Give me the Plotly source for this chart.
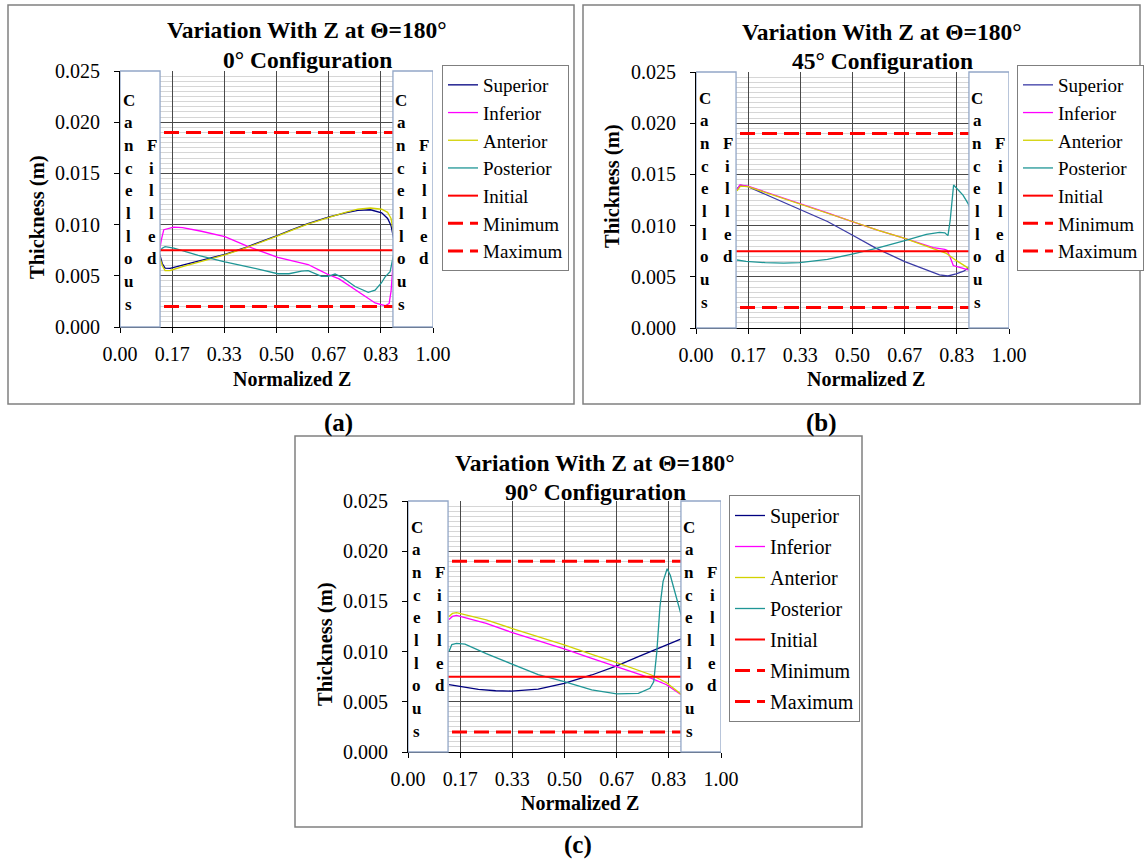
import plotly.graph_objects as go

W, H = 1144, 859
SERIF = "Liberation Serif"

# ---------------- data: normalized Z and wall thickness (m) ----------------
series_names = ["Superior", "Inferior", "Anterior", "Posterior"]

# 0° configuration
sup_a_x = [0.125, 0.135, 0.144, 0.16, 0.20, 0.26, 0.335, 0.40, 0.46, 0.504, 0.55, 0.60, 0.668, 0.72, 0.76, 0.80, 0.836, 0.855, 0.866, 0.872, 0.875]
sup_a_y = [0.0073, 0.0062, 0.00575, 0.00572, 0.00605, 0.0065, 0.0071, 0.00775, 0.0084, 0.00895, 0.0095, 0.0101, 0.01075, 0.01115, 0.01138, 0.01145, 0.01115, 0.0106, 0.0099, 0.009, 0.0085]
inf_a_x = [0.125, 0.132, 0.140, 0.15, 0.172, 0.20, 0.26, 0.335, 0.41, 0.504, 0.56, 0.601, 0.64, 0.668, 0.70, 0.751, 0.79, 0.815, 0.847, 0.860, 0.866, 0.870, 0.873, 0.875]
inf_a_y = [0.0072, 0.0085, 0.0095, 0.0096, 0.00975, 0.0097, 0.00935, 0.00882, 0.00785, 0.0068, 0.0064, 0.0061, 0.0055, 0.00508, 0.0047, 0.00365, 0.0028, 0.00235, 0.00208, 0.0023, 0.0035, 0.0055, 0.0068, 0.0072]
ant_a_x = [0.125, 0.135, 0.144, 0.16, 0.20, 0.26, 0.335, 0.40, 0.46, 0.504, 0.55, 0.60, 0.668, 0.72, 0.76, 0.80, 0.836, 0.855, 0.866, 0.872, 0.875]
ant_a_y = [0.0070, 0.0060, 0.0055, 0.00552, 0.0059, 0.0064, 0.00705, 0.0077, 0.00835, 0.0089, 0.00945, 0.01005, 0.0107, 0.0112, 0.0115, 0.01162, 0.0115, 0.0112, 0.0106, 0.0096, 0.0089]
post_a_x = [0.125, 0.135, 0.144, 0.172, 0.25, 0.335, 0.42, 0.504, 0.54, 0.58, 0.601, 0.625, 0.644, 0.665, 0.687, 0.71, 0.751, 0.793, 0.815, 0.835, 0.847, 0.863, 0.870, 0.875]
post_a_y = [0.0073, 0.0077, 0.00784, 0.0077, 0.0070, 0.00636, 0.0058, 0.0052, 0.0052, 0.00545, 0.0055, 0.0052, 0.00495, 0.00495, 0.00517, 0.00485, 0.00395, 0.00338, 0.0036, 0.0043, 0.0049, 0.0054, 0.0063, 0.0072]

# 45° configuration
sup_b_x = [0.131, 0.142, 0.166, 0.25, 0.331, 0.42, 0.499, 0.576, 0.667, 0.736, 0.778, 0.805, 0.831, 0.855, 0.869, 0.875]
sup_b_y = [0.0136, 0.01394, 0.0138, 0.0127, 0.0116, 0.0104, 0.00908, 0.00778, 0.00648, 0.00567, 0.00518, 0.00508, 0.00528, 0.00555, 0.00583, 0.0061]
inf_b_x = [0.131, 0.140, 0.166, 0.25, 0.331, 0.42, 0.499, 0.58, 0.667, 0.758, 0.795, 0.802, 0.812, 0.822, 0.84, 0.869, 0.875]
inf_b_y = [0.0135, 0.01397, 0.01385, 0.0130, 0.01218, 0.01125, 0.01039, 0.00955, 0.00876, 0.00784, 0.00768, 0.0076, 0.0069, 0.0061, 0.00595, 0.00567, 0.0057]
ant_b_x = [0.131, 0.142, 0.166, 0.25, 0.331, 0.42, 0.499, 0.58, 0.667, 0.74, 0.778, 0.80, 0.831, 0.855, 0.875]
ant_b_y = [0.0134, 0.01385, 0.0138, 0.01295, 0.01215, 0.01125, 0.0104, 0.00955, 0.00875, 0.00795, 0.0075, 0.00729, 0.0066, 0.0061, 0.00575]
post_b_x = [0.131, 0.16, 0.221, 0.28, 0.331, 0.42, 0.499, 0.576, 0.667, 0.736, 0.778, 0.795, 0.805, 0.812, 0.823, 0.853, 0.869, 0.875]
post_b_y = [0.00664, 0.0065, 0.00638, 0.00633, 0.00638, 0.0067, 0.00722, 0.00778, 0.00853, 0.00915, 0.00934, 0.0093, 0.00902, 0.0105, 0.01396, 0.01298, 0.01217, 0.0117]

# 90° configuration
sup_c_x = [0.131, 0.18, 0.225, 0.28, 0.331, 0.416, 0.499, 0.587, 0.667, 0.736, 0.80, 0.869, 0.875]
sup_c_y = [0.0067, 0.00645, 0.00624, 0.0061, 0.00607, 0.00627, 0.00684, 0.00767, 0.00857, 0.0095, 0.01032, 0.01122, 0.0113]
inf_c_x = [0.131, 0.142, 0.155, 0.25, 0.331, 0.42, 0.499, 0.58, 0.667, 0.778, 0.826, 0.869, 0.875]
inf_c_y = [0.0132, 0.0135, 0.01361, 0.0128, 0.01192, 0.01105, 0.01026, 0.0094, 0.0085, 0.00734, 0.0067, 0.00578, 0.00565]
ant_c_x = [0.131, 0.142, 0.155, 0.25, 0.331, 0.42, 0.499, 0.58, 0.667, 0.778, 0.826, 0.869, 0.875]
ant_c_y = [0.0135, 0.0138, 0.01388, 0.01315, 0.01232, 0.01145, 0.01066, 0.0098, 0.0089, 0.00767, 0.0069, 0.00585, 0.00565]
post_c_x = [0.131, 0.140, 0.155, 0.182, 0.25, 0.331, 0.416, 0.499, 0.587, 0.667, 0.736, 0.773, 0.785, 0.795, 0.805, 0.815, 0.828, 0.838, 0.853, 0.869, 0.875]
post_c_y = [0.0100, 0.0107, 0.01082, 0.01075, 0.0098, 0.00877, 0.0077, 0.0070, 0.00618, 0.00578, 0.00584, 0.00635, 0.0070, 0.0100, 0.01448, 0.0170, 0.01825, 0.0176, 0.0158, 0.0140, 0.0134]

# design limits
initial_thickness = 0.0075
minimum_thickness = 0.002
maximum_thickness = 0.019
limit_span = [0.0, 1.0]

# axis ticks
y_range = [0.0, 0.025]
x_tickvals = [0, 1 / 6, 2 / 6, 3 / 6, 4 / 6, 5 / 6, 1]
x_ticktext = ["0.00", "0.17", "0.33", "0.50", "0.67", "0.83", "1.00"]

# ---------------- styling ----------------
superior_colors = {"a": "#000080", "b": "#3b3ba6", "c": "#000080"}
inferior_color = "#ff00ff"
anterior_color = "#d2d200"
posterior_color = "#1f9696"
limit_color = "#ff0000"

panels = [
    dict(key="a", cfg="0°", xs=(sup_a_x, inf_a_x, ant_a_x, post_a_x), ys=(sup_a_y, inf_a_y, ant_a_y, post_a_y),
         plot=(120, 433, 71, 327), frame=(8, 574, 5, 404), title_cx=307, title_y=(30, 60),
         caption=(338, 423), xtitle=(292, 379), ytitle=(38, 217), legend=(442, 65), letters_top=29),
    dict(key="b", cfg="45°", xs=(sup_b_x, inf_b_x, ant_b_x, post_b_x), ys=(sup_b_y, inf_b_y, ant_b_y, post_b_y),
         plot=(696, 1009, 72, 328), frame=(583, 1140, 5, 404), title_cx=882, title_y=(32, 61),
         caption=(821, 423), xtitle=(866, 379), ytitle=(612, 186), legend=(1017, 65), letters_top=26),
    dict(key="c", cfg="90°", xs=(sup_c_x, inf_c_x, ant_c_x, post_c_x), ys=(sup_c_y, inf_c_y, ant_c_y, post_c_y),
         plot=(408, 721, 501, 752), frame=(295, 862, 436, 827), title_cx=595, title_y=(463, 492),
         caption=(578, 845), xtitle=(580, 803), ytitle=(325, 644), legend=(729, 495), letters_top=26),
]


def fx(p):
    return p / W


def fy(p):
    return 1 - p / H


def label(x, y, text, size, xref="paper", yref="paper", bold=True, angle=0):
    return dict(x=x, y=y, xref=xref, yref=yref, text=text, showarrow=False, textangle=angle,
                xanchor="center", yanchor="middle",
                font=dict(family=SERIF, size=size, color="black", weight="bold" if bold else "normal"))


fig = go.Figure()
shapes, annotations = [], []
layout_axes = {}

for i, p in enumerate(panels):
    n = "" if i == 0 else str(i + 1)
    xa, ya = "x" + n, "y" + n
    leg = "legend" if i == 0 else "legend" + str(i + 1)
    colors = [superior_colors[p["key"]], inferior_color, anterior_color, posterior_color]

    for name, xv, yv, c in zip(series_names, p["xs"], p["ys"], colors):
        fig.add_trace(go.Scatter(x=xv, y=yv, mode="lines", name=name, line=dict(color=c, width=1.3),
                                 xaxis=xa, yaxis=ya, legend=leg, legendgroup=p["key"] + name))
    for name, val, w, dash in [("Initial", initial_thickness, 2, "solid"),
                               ("Minimum", minimum_thickness, 3, "15px,7px"),
                               ("Maximum", maximum_thickness, 3, "15px,7px")]:
        fig.add_trace(go.Scatter(x=limit_span, y=[val, val], mode="lines", name=name,
                                 line=dict(color=limit_color, width=w, dash=dash),
                                 xaxis=xa, yaxis=ya, legend=leg, legendgroup=p["key"] + name))

    x0, x1, y0, y1 = p["plot"]
    layout_axes["xaxis" + n] = dict(
        domain=[fx(x0), fx(x1)], range=[0, 1], anchor=ya, tickmode="array", tickvals=x_tickvals,
        ticktext=x_ticktext, ticks="outside", ticklen=5, tickcolor="black", showline=True,
        linecolor="black", linewidth=1, showgrid=True, gridcolor="#4a4a4a", gridwidth=1, zeroline=False,
        automargin=False, tickfont=dict(family=SERIF, size=20, color="black"), ticklabelstandoff=4)
    layout_axes["yaxis" + n] = dict(
        domain=[fy(y1), fy(y0)], range=y_range, anchor=xa, dtick=0.005, tickformat=".3f",
        ticks="outside", ticklen=5, tickcolor="black", showline=True, linecolor="black", linewidth=1,
        showgrid=True, gridcolor="#4a4a4a", gridwidth=1, zeroline=False, automargin=False,
        minor=dict(dtick=0.0005, tick0=0, showgrid=True, gridcolor="#d6d6d6", gridwidth=1),
        tickfont=dict(family=SERIF, size=20, color="black"), ticklabelstandoff=10)

    lx, ly = p["legend"]
    layout_axes[leg] = dict(x=fx(lx), y=fy(ly), xanchor="left", yanchor="top", xref="paper",
                            yref="paper", bgcolor="white", bordercolor="#7f7f7f", borderwidth=1,
                            font=dict(family=SERIF, size=19 if p["key"] != "c" else 20, color="black"),
                            tracegroupgap=0 if p["key"] != "c" else 2, itemwidth=30)

    # outer frame of the chart
    fl, fr, ft, fb = p["frame"]
    shapes.append(dict(type="rect", xref="paper", yref="paper", x0=fx(fl), x1=fx(fr), y0=fy(fb), y1=fy(ft),
                       line=dict(color="#808080", width=1.5), fillcolor="rgba(0,0,0,0)", layer="below"))

    # bone region boxes at both ends
    for bx0, bx1 in [(0.0, 0.128), (0.872, 1.0)]:
        shapes.append(dict(type="rect", xref=xa, yref=ya + " domain", x0=bx0, x1=bx1, y0=0, y1=1,
                           fillcolor="white", line=dict(color="#93a7c7", width=1.3), layer="above"))

    plot_h = y1 - y0
    row_step = 22.7
    for cx, fxp in [(0.028, 0.101), (0.899, 0.972)]:
        for r, ch in enumerate("Cancellous"):
            annotations.append(label(cx, 1 - (p["letters_top"] + r * row_step) / plot_h, ch, 17,
                                     xref=xa, yref=ya + " domain"))
        for r, ch in enumerate("Filled"):
            annotations.append(label(fxp, 1 - (p["letters_top"] + (r + 2) * row_step) / plot_h, ch, 17,
                                     xref=xa, yref=ya + " domain"))

    # titles and captions
    annotations.append(label(fx(p["title_cx"]), fy(p["title_y"][0]), "Variation With Z at Θ=180°", 23.5))
    annotations.append(label(fx(p["title_cx"]), fy(p["title_y"][1]), p["cfg"] + " Configuration", 23.5))
    annotations.append(label(fx(p["xtitle"][0]), fy(p["xtitle"][1]), "Normalized Z", 20))
    annotations.append(label(fx(p["ytitle"][0]), fy(p["ytitle"][1]), "Thickness (m)", 20.5, angle=-90))
    annotations.append(label(fx(p["caption"][0]), fy(p["caption"][1]), "(" + p["key"] + ")", 25))

fig.update_layout(template="none", width=W, height=H,
                  margin=dict(l=0, r=0, t=0, b=0, pad=0, autoexpand=False),
                  paper_bgcolor="white", plot_bgcolor="white", showlegend=True, shapes=shapes,
                  annotations=annotations, font=dict(family=SERIF, color="black"), **layout_axes)

fig.write_html("out.html")
